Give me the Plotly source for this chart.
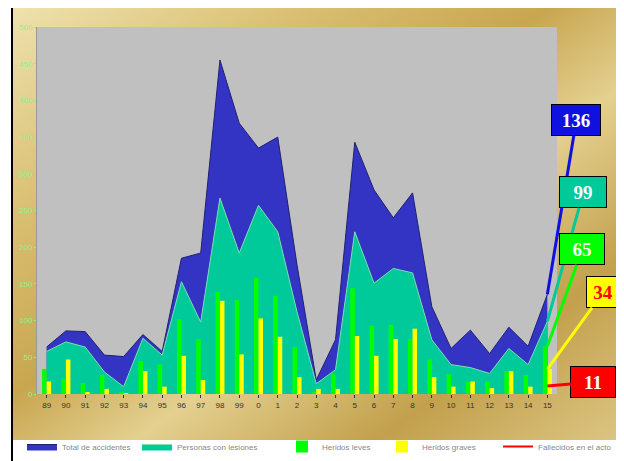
import base64
import plotly.graph_objects as go

# =====================================================
# Datos
# =====================================================
years = ["89", "90", "91", "92", "93", "94", "95", "96", "97", "98", "99",
         "0", "1", "2", "3", "4", "5", "6", "7", "8", "9", "10", "11", "12",
         "13", "14", "15"]

total_vals = [64, 86, 85, 53, 51, 81, 58, 185, 192, 455, 369, 335, 350, 176,
              19, 74, 343, 278, 240, 274, 119, 62, 87, 55, 91, 65, 136]
lesion_vals = [58, 71, 64, 30, 10, 76, 53, 153, 98, 267, 192, 257, 221, 112,
               14, 33, 221, 151, 171, 165, 74, 40, 36, 28, 62, 40, 99]
leves_vals = [34, 20, 15, 26, 2, 45, 40, 102, 75, 139, 128, 158, 134, 64,
              3, 27, 144, 93, 94, 75, 47, 27, 17, 17, 31, 26, 65]
graves_vals = [17, 47, 2, 7, 1, 31, 10, 52, 19, 127, 54, 103, 78, 23,
               7, 7, 79, 52, 75, 89, 23, 10, 17, 8, 31, 10, 34]
fallecidos_vals = [8, 9, 7, 6, 5, 9, 8, 12, 10, 14, 13, 12, 11, 9,
                   6, 7, 12, 10, 11, 10, 8, 7, 6, 6, 8, 7, 11]

names = ["Total de accidentes", "Personas con lesiones", "Heridos leves",
         "Heridos graves", "Fallecidos en el acto"]

# =====================================================
# Fondo dorado (degradado)
# =====================================================
svg = """<svg xmlns='http://www.w3.org/2000/svg' width='600' height='440'>
<defs><linearGradient id='g' x1='0' y1='0' x2='1' y2='1'>
<stop offset='0' stop-color='#efe3b0'/>
<stop offset='0.25' stop-color='#d9bf72'/>
<stop offset='0.45' stop-color='#c8a650'/>
<stop offset='0.6' stop-color='#e4d090'/>
<stop offset='0.8' stop-color='#c2a04c'/>
<stop offset='1' stop-color='#dcc583'/>
</linearGradient></defs>
<rect width='600' height='440' fill='url(#g)'/></svg>"""
bg_src = "data:image/svg+xml;base64," + base64.b64encode(svg.encode()).decode()

fig = go.Figure()

# red line first so the areas cover it
fig.add_trace(go.Scatter(x=years, y=fallecidos_vals, mode="lines",
                         line=dict(color="#ff0000", width=2), name=names[4],
                         legend="legend5"))
fig.add_trace(go.Scatter(x=years, y=total_vals, mode="lines", fill="tozeroy",
                         fillcolor="#3434c4", line=dict(color="#202070", width=1),
                         name=names[0], legend="legend"))
fig.add_trace(go.Scatter(x=years, y=lesion_vals, mode="lines", fill="tozeroy",
                         fillcolor="#00c99a", line=dict(color="#7fe0b0", width=1),
                         name=names[1], legend="legend2"))

# barras encima (eje superpuesto)
fig.add_trace(go.Bar(x=years, y=leves_vals, marker=dict(color="#00ff00", line=dict(width=0)),
                     name=names[2], yaxis="y2", legend="legend3"))
fig.add_trace(go.Bar(x=years, y=graves_vals,
                     marker=dict(color="#ffff00", line=dict(width=0)),
                     name=names[3], yaxis="y2", legend="legend4"))

# page body has an 8px margin -> work in figure pixels = screen - 8
FW, FH = 616, 453
L, R, T, B = 29, 549, 19, 386
W, H = R - L, B - T


def px_x(p):
    return (p - L) / W


def px_y(p):
    return (B - p) / H


# === Callouts ===
last = len(years) - 1
callouts = [
    (total_vals[-1], "#1010e0", "white", 29, -174, 44),
    (lesion_vals[-1], "#00c99a", "white", 36, -129, 42),
    (leves_vals[-1], "#00ff00", "white", 35, -97, 40),
    (graves_vals[-1], "#ffff00", "#ff0000", 56, -77, 28),
    (fallecidos_vals[-1], "#ff0000", "white", 46, -4, 40),
]
annotations = []
for val, col, fcol, ax, ay, w in callouts:
    annotations.append(dict(
        x=last, y=val, xref="x", yref="y", text=f"<b>{val}</b>",
        showarrow=True, arrowhead=0, arrowwidth=3, arrowcolor=col,
        ax=ax, ay=ay, bgcolor=col, bordercolor="black", borderwidth=1,
        borderpad=2, width=w, height=26,
        font=dict(family="Liberation Serif", size=19, color=fcol)))

# === Leyendas (una por serie, colocadas como en la imagen) ===
legend_x = [22, 137, 282, 382, 498]
legends = {}
for i, lx in enumerate(legend_x):
    key = "legend" if i == 0 else f"legend{i + 1}"
    legends[key] = dict(orientation="h", x=px_x(lx - 8), y=px_y(FH),
                        xanchor="left", yanchor="bottom",
                        bgcolor="rgba(0,0,0,0)", itemwidth=30,
                        font=dict(family="Arial", size=8, color="#888"))

fig.update_layout(
    width=FW, height=FH,
    margin=dict(l=L, r=FW - R, t=T, b=FH - B, autoexpand=False),
    paper_bgcolor="white",
    plot_bgcolor="rgba(0,0,0,0)",
    barmode="group", bargap=0.53, bargroupgap=0,
    showlegend=True,
    xaxis=dict(type="category", range=[-0.5, len(years) - 0.5], showgrid=False,
               ticks="outside", ticklen=3, tickcolor="#333",
               tickfont=dict(family="Arial", size=8, color="#333"),
               showline=False, zeroline=False),
    yaxis=dict(range=[0, 500], dtick=50, showgrid=False, ticks="outside",
               ticklen=2, tickcolor="#7f7", tickfont=dict(family="Arial", size=8,
                                                          color="#90f090"),
               showline=True, linecolor="#999", linewidth=1, zeroline=False),
    yaxis2=dict(range=[0, 500], overlaying="y", visible=False),
    images=[dict(source=bg_src, xref="paper", yref="paper",
                 x=px_x(5), y=px_y(-8), sizex=(612 - 5) / W, sizey=440 / H,
                 sizing="stretch", layer="below", xanchor="left", yanchor="top")],
    shapes=[
        dict(type="rect", xref="paper", yref="paper", x0=0, x1=1, y0=0, y1=1,
             fillcolor="#c0c0c0", line=dict(width=0), layer="below"),
        dict(type="line", xref="paper", yref="paper", x0=px_x(4), x1=px_x(4),
             y0=px_y(FH), y1=px_y(-8), line=dict(color="black", width=2)),
        dict(type="line", xref="paper", yref="paper", x0=px_x(612), x1=px_x(612),
             y0=px_y(FH), y1=px_y(-8), line=dict(color="black", width=2)),
    ],
    annotations=annotations,
    **legends,
)

fig.write_html("out.html")
